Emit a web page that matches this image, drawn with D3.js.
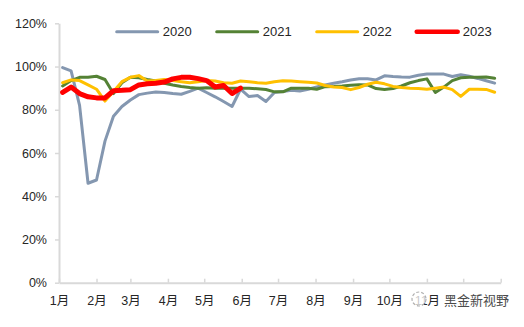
<!DOCTYPE html>
<html>
<head>
<meta charset="utf-8">
<script src="https://cdn.jsdelivr.net/npm/d3@7"></script>
<style>
  html, body { margin: 0; padding: 0; background: #fff; }
  svg { display: block; }
  text { font-family: "Liberation Sans", "Noto Sans CJK SC", sans-serif; }
</style>
</head>
<body>
<svg id="chart" width="524" height="327"></svg>
<script>
// ---- data (weekly utilisation rate, %) ----
const seriesNames = ["2020", "2021", "2022", "2023"];
const s2020 = [99.5, 98, 82, 46, 47.5, 65.5, 77, 81.5, 84.5, 87, 87.7, 88.2, 88, 87.5, 87.2, 88.5, 90, 88, 86, 83.8,
  81.5, 89.5, 86.1, 86.6, 83.8, 88, 88.4, 89, 88.7, 89.5, 90.5, 91.5, 92.3, 93, 93.8, 94.3, 94.3, 93.8, 95.7, 95.4,
  95.2, 95.1, 96, 96.5, 96.5, 96.5, 95.4, 96.2, 95.5, 94.5, 93.4, 92.3];
const s2021 = [91, 93.5, 95, 95, 95.5, 94, 87.5, 92.5, 95, 94.8, 94, 93.3, 92.3, 91.5, 90.8, 90.3, 90, 90.2, 90, 90,
  90, 90, 90, 89.7, 89.4, 88.3, 88.3, 90, 90, 90, 89.5, 90.7, 90.8, 91, 91.3, 91.6, 91.5, 89.8, 89.4, 89.8,
  91, 92.5, 93.5, 94.3, 88, 90.5, 93.5, 94.8, 95, 95, 95.2, 94.6];
const s2022 = [92.5, 93.8, 93.5, 91.5, 89.5, 84, 88.5, 93, 95, 95.8, 93.3, 93.5, 94, 93.5, 93, 92.5, 93, 93.5, 93.3, 92.5,
  92.3, 93.3, 93, 92.5, 92.3, 93, 93.4, 93.3, 93, 92.7, 92.4, 91.2, 90.5, 90.3, 89.3, 90.3, 91.8, 92.7, 92, 90.8,
  90.3, 90, 89.8, 89.5, 90, 90.5, 89.3, 86.2, 89.5, 89.5, 89.4, 88.1];
const s2023 = [88, 90.5, 87.5, 86, 85.5, 85.5, 88.8, 89, 89.3, 91.5, 92, 92.3, 92.8, 94.3, 95, 95, 94.4, 93.5, 90.5, 91.2,
  87.5, 90];
const monthStartDays = [0, 31, 59, 90, 120, 151, 181, 212, 243, 273, 304, 334, 365];
const monthLabels = ["1月", "2月", "3月", "4月", "5月", "6月", "7月", "8月", "9月", "10月", "11月"];
const yTicks = [0, 0.2, 0.4, 0.6, 0.8, 1.0, 1.2];
const colors = ["#8497B0", "#548235", "#FFC000", "#FF0000"];
const widths = [3, 3, 3, 5];
const watermark = "黑金新视野";

// ---- layout ----
const svg = d3.select("#chart");
const plotLeft = 59, plotRight = 500.7, plotTop = 23.3, plotBottom = 282.7;
const x = d3.scaleLinear().domain([0, 365]).range([plotLeft, plotRight]);
const y = d3.scaleLinear().domain([0, 1.2]).range([plotBottom, plotTop]);
const dayOf = i => 3 + 7 * i;

// axes
const yAxis = d3.axisLeft(y).tickValues(yTicks).tickFormat(d3.format(".0%"))
  .tickSizeInner(4).tickSizeOuter(0).tickPadding(8);
const gy = svg.append("g").attr("transform", `translate(${plotLeft},0)`).call(yAxis);
gy.select(".domain").attr("stroke", "#D9D9D9").attr("stroke-width", 2);
gy.selectAll(".tick line").attr("stroke", "#D9D9D9").attr("stroke-width", 1.5);
gy.selectAll(".tick text").attr("font-size", 12.5).attr("fill", "#262626")
  .attr("font-family", "Liberation Sans, Noto Sans CJK SC, sans-serif");

const xAxis = d3.axisBottom(x).tickValues(monthStartDays)
  .tickFormat((d, i) => i < monthLabels.length ? monthLabels[i] : "")
  .tickSizeInner(-4).tickSizeOuter(0).tickPadding(13);
const gx = svg.append("g").attr("transform", `translate(0,${plotBottom})`).call(xAxis);
gx.select(".domain").attr("stroke", "#D9D9D9").attr("stroke-width", 2);
gx.selectAll(".tick line").attr("stroke", "#D9D9D9").attr("stroke-width", 1.5);
gx.selectAll(".tick text").attr("font-size", 12.5).attr("fill", "#262626")
  .attr("font-family", "Liberation Sans, Noto Sans CJK SC, sans-serif");

// lines
const line = d3.line().x((d, i) => x(dayOf(i))).y(d => y(d / 100));
[s2020, s2021, s2022, s2023].forEach((s, k) => {
  svg.append("path").datum(s).attr("d", line)
    .attr("fill", "none").attr("stroke", colors[k]).attr("stroke-width", widths[k])
    .attr("stroke-linejoin", "round").attr("stroke-linecap", "round");
});

// legend
const legendX = [116.7, 216.7, 316.7, 416.7];
const legendY = 31.7;
seriesNames.forEach((n, k) => {
  svg.append("line").attr("x1", legendX[k]).attr("x2", legendX[k] + 41)
    .attr("y1", legendY).attr("y2", legendY)
    .attr("stroke", colors[k]).attr("stroke-width", k === 3 ? 4.5 : 3)
    .attr("stroke-linecap", "round");
  svg.append("text").attr("x", legendX[k] + 46).attr("y", legendY)
    .attr("dominant-baseline", "central").attr("font-size", 13).attr("fill", "#262626")
    .text(n);
});

// watermark
const wm = svg.append("g");
wm.append("circle").attr("cx", 419).attr("cy", 299).attr("r", 7)
  .attr("fill", "rgba(255,255,255,0.75)").attr("stroke", "#b0b0b0").attr("stroke-width", 1.2)
  .attr("stroke-dasharray", "3,2");
wm.append("text").attr("x", 444).attr("y", 300).attr("dominant-baseline", "central")
  .attr("font-size", 13).attr("font-family", "Noto Sans CJK SC, sans-serif")
  .attr("fill", "#4a4a4a").attr("stroke", "#ffffff").attr("stroke-width", 2)
  .attr("paint-order", "stroke").text(watermark);
</script>
</body>
</html>
